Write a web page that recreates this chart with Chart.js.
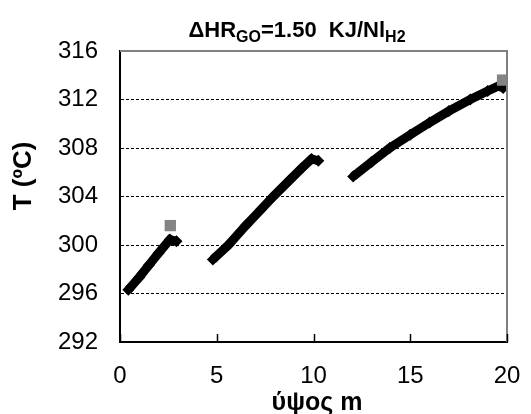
<!DOCTYPE html>
<html>
<head>
<meta charset="utf-8">
<script src="https://cdn.jsdelivr.net/npm/chart.js@4.4.0/dist/chart.umd.min.js"></script>
<style>
  html, body { margin: 0; padding: 0; background: #fff; }
  #wrap { position: relative; width: 531px; height: 414px; }
</style>
</head>
<body>
<div id="wrap"><canvas id="c" width="531" height="414"></canvas></div>
<script>
// ---- data ----
const seg1X = [0.43, 1.0, 1.5, 2.0, 2.58, 2.92];
const seg1Y = [296.3, 297.35, 298.35, 299.35, 300.45, 300.3];
const seg2X = [4.8, 5.6, 6.5, 7.3, 7.92, 8.8, 9.4, 9.9, 10.25];
const seg2Y = [298.8, 300.0, 301.6, 302.95, 304.0, 305.4, 306.35, 307.1, 306.95];
const seg3X = [12.05, 13.0, 13.94, 15.0, 16.0, 17.0, 18.1, 19.0, 19.6, 19.8];
const seg3Y = [305.65, 306.85, 308.0, 309.1, 310.1, 311.05, 312.0, 312.7, 313.15, 312.95];
const squareX = [2.6, 19.77];
const squareY = [301.6, 313.6];
const xTicks = [0, 5, 10, 15, 20];
const yTicks = [292, 296, 300, 304, 308, 312, 316];

const titleMain = ["ΔHR", "GO", "=1.50  KJ/Nl", "H2"];
const xTitle = "ύψος m";
const yTitle = "T (ºC)";

const toPts = (xs, ys) => xs.map((x, i) => ({ x: x, y: ys[i] }));
const FONT = "'Liberation Sans', Arial, sans-serif";

const lineDs = (xs, ys) => ({
  data: toPts(xs, ys),
  showLine: true,
  borderColor: '#000',
  backgroundColor: '#000',
  borderWidth: 9,
  pointStyle: 'rectRot',
  pointRadius: 6,
  pointBorderWidth: 0,
  tension: 0,
  order: 2
});

const decor = {
  id: 'decor',
  afterDraw(chart) {
    const ctx = chart.ctx;
    const a = chart.chartArea;
    const xs = chart.scales.x;
    ctx.save();
    // top & right border (gray)
    ctx.strokeStyle = '#808080';
    ctx.lineWidth = 2;
    ctx.beginPath();
    ctx.moveTo(a.left, a.top);
    ctx.lineTo(a.right, a.top);
    ctx.lineTo(a.right, a.bottom);
    ctx.stroke();
    // inward x tick marks
    ctx.strokeStyle = '#000';
    ctx.lineWidth = 1.5;
    xTicks.forEach(v => {
      const px = Math.round(xs.getPixelForValue(v)) + 0.5;
      ctx.beginPath();
      ctx.moveTo(px, a.bottom);
      ctx.lineTo(px, a.bottom - 8);
      ctx.stroke();
    });
    // chart title with subscripts
    ctx.fillStyle = '#000';
    ctx.textBaseline = 'alphabetic';
    ctx.textAlign = 'left';
    const big = "bold 22px " + FONT, small = "bold 16px " + FONT;
    const parts = [[titleMain[0], big, 0], [titleMain[1], small, 5], [titleMain[2], big, 0], [titleMain[3], small, 5]];
    let total = 0;
    parts.forEach(p => { ctx.font = p[1]; total += ctx.measureText(p[0]).width; });
    let tx = 297 - total / 2;
    const base = 37;
    parts.forEach(p => { ctx.font = p[1]; ctx.fillText(p[0], tx, base + p[2]); tx += ctx.measureText(p[0]).width; });
    // x title
    ctx.font = "bold 25px " + FONT;
    ctx.textAlign = 'center';
    ctx.textBaseline = 'middle';
    ctx.fillText(xTitle, 317, 403);
    // y title
    ctx.font = "bold 26px " + FONT;
    ctx.translate(24, 176);
    ctx.rotate(-Math.PI / 2);
    ctx.fillText(yTitle, 0, 0);
    ctx.restore();
  }
};

new Chart(document.getElementById('c'), {
  type: 'scatter',
  data: {
    datasets: [
      {
        data: toPts(squareX, squareY),
        pointStyle: 'rect',
        pointRadius: 8,
        pointBorderWidth: 0,
        backgroundColor: '#848484',
        borderColor: '#848484',
        showLine: false,
        order: 0
      },
      lineDs(seg1X, seg1Y),
      lineDs(seg2X, seg2Y),
      lineDs(seg3X, seg3Y)
    ]
  },
  options: {
    responsive: false,
    animation: false,
    events: [],
    layout: { padding: { top: 51, right: 24, left: 0, bottom: 0 } },
    plugins: { legend: { display: false }, tooltip: { enabled: false }, title: { display: false } },
    scales: {
      x: {
        type: 'linear',
        min: 0, max: 20,
        afterBuildTicks: s => { s.ticks = xTicks.map(v => ({ value: v })); },
        afterFit: s => { s.height = 72; s.paddingLeft = 0; s.paddingRight = 0; },
        grid: { display: false, drawTicks: false },
        border: { display: true, color: '#000', width: 2 },
        ticks: { color: '#000', font: { family: FONT, size: 24 }, padding: 20, maxRotation: 0 }
      },
      y: {
        type: 'linear',
        min: 292, max: 316,
        afterBuildTicks: s => { s.ticks = yTicks.map(v => ({ value: v })); },
        afterFit: s => { s.width = 120; s.paddingTop = 0; s.paddingBottom = 0; },
        grid: {
          drawTicks: false,
          color: c => (c.tick && (c.tick.value === 292 || c.tick.value === 316)) ? 'rgba(0,0,0,0)' : '#000',
          lineWidth: 1
        },
        border: { display: true, color: '#000', width: 2, dash: [3, 2] },
        ticks: { color: '#000', font: { family: FONT, size: 24 }, padding: 22 }
      }
    }
  },
  plugins: [decor]
});
</script>
</body>
</html>
